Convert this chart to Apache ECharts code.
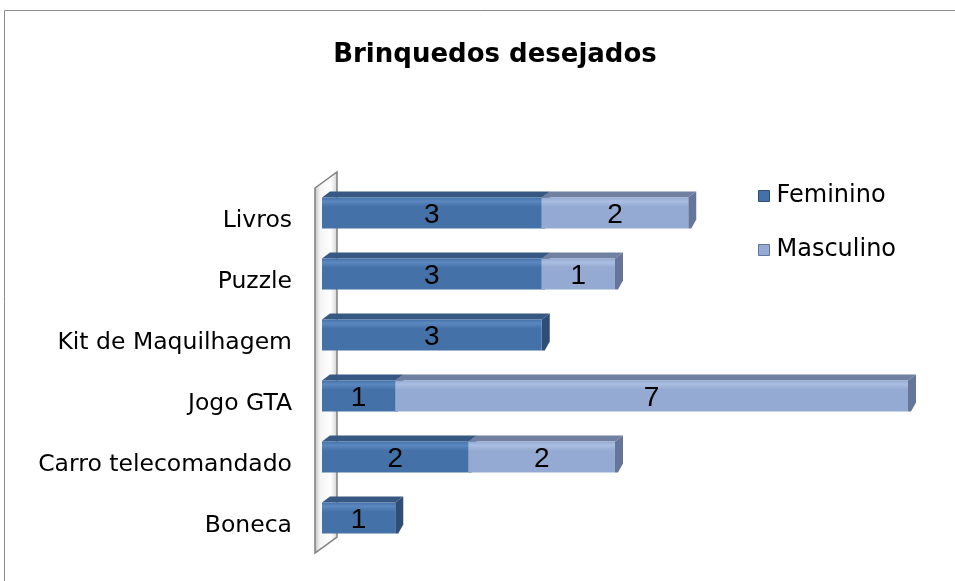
<!DOCTYPE html>
<html>
<head>
<meta charset="utf-8">
<script src="https://cdn.jsdelivr.net/npm/echarts@6/dist/echarts.min.js"></script>
<style>
    html, body { margin: 0; padding: 0; background: #fff; }
    #main { width: 955px; height: 581px; }
</style>
</head>
<body>
<div id="main"></div>
<script>
// dados do gráfico
const categorias = ['Livros', 'Puzzle', 'Kit de Maquilhagem', 'Jogo GTA', 'Carro telecomandado', 'Boneca'];
const feminino = [3, 3, 3, 1, 2, 1];
const masculino = [2, 1, 0, 7, 2, 0];
const nomesSeries = ['Feminino', 'Masculino'];

// cores de cada série: frente, topo, lado, brilho
const cores = {
    Feminino: { front: '#4472A8', top: '#375882', side: '#2F4E77', light: '#5A88BF' },
    Masculino: { front: '#95AAD2', top: '#7080A0', side: '#66769A', light: '#AABEE2' }
};

// monta os segmentos empilhados [categoria, inicio, fim, valor]
const segFeminino = feminino.map((v, i) => [i, 0, v, v]);
const segMasculino = masculino.map((v, i) => [i, feminino[i], feminino[i] + v, v]);

const makeRender = (nome) => (params, api) => {
    const cat = api.value(0);
    const start = api.value(1);
    const end = api.value(2);
    const valor = api.value(3);
    if (!valor) return;
    const p0 = api.coord([start, cat]);
    const p1 = api.coord([end, cat]);
    const c = cores[nome];
    const dx = 8, dy = 6;
    const ft = p0[1] - 13;   // topo da face frontal
    const fh = 31;
    const x0 = p0[0], x1 = p1[0];
    return {
        type: 'group',
        children: [
            {
                type: 'polygon',
                shape: { points: [[x0, ft], [x0 + dx, ft - dy], [x1 + dx, ft - dy], [x1, ft]] },
                style: { fill: c.top }
            },
            {
                type: 'polygon',
                shape: { points: [[x1, ft], [x1 + dx, ft - dy], [x1 + dx, ft + fh - dy - 3], [x1 + 3, ft + fh], [x1, ft + fh]] },
                style: { fill: c.side }
            },
            {
                type: 'rect',
                shape: { x: x0, y: ft, width: x1 - x0, height: fh },
                style: {
                    fill: new echarts.graphic.LinearGradient(0, 0, 0, 1, [
                        { offset: 0, color: c.front },
                        { offset: 0.12, color: c.light },
                        { offset: 0.3, color: c.front },
                        { offset: 1, color: c.front }
                    ])
                }
            },
            {
                type: 'text',
                style: {
                    text: String(valor),
                    x: (x0 + x1) / 2,
                    y: ft + fh / 2 + 2,
                    align: 'center',
                    verticalAlign: 'middle',
                    font: '28px "Liberation Sans Narrow", sans-serif',
                    fill: '#000'
                }
            }
        ]
    };
};

const chart = echarts.init(document.getElementById('main'));

const option = {
    animation: false,
    backgroundColor: '#fff',
    title: {
        text: 'Brinquedos desejados',
        left: 490,
        top: 37,
        textAlign: 'center',
        textStyle: { fontFamily: 'DejaVu Sans', fontWeight: 'bold', fontSize: 26, color: '#000' }
    },
    legend: {
        orient: 'vertical',
        left: 753,
        top: 179,
        itemWidth: 11,
        itemHeight: 11,
        itemGap: 30,
        icon: 'rect',
        textStyle: { fontFamily: 'DejaVu Sans', fontSize: 24, color: '#000', padding: [0, 0, 0, 2] },
        data: [
            { name: 'Feminino', itemStyle: { color: cores.Feminino.front, borderColor: '#2F4E77', borderWidth: 1 } },
            { name: 'Masculino', itemStyle: { color: cores.Masculino.front, borderColor: '#66769A', borderWidth: 1 } }
        ]
    },
    grid: { left: 322, right: 47, top: 180, bottom: 35 },
    xAxis: {
        type: 'value',
        min: 0,
        max: 8,
        show: false
    },
    yAxis: {
        type: 'category',
        data: categorias,
        inverse: true,
        axisLine: { show: false },
        axisTick: { show: false },
        axisLabel: {
            margin: 30,
            fontFamily: 'DejaVu Sans',
            fontSize: 23.5,
            color: '#000',
            verticalAlign: 'top',
            lineHeight: 20
        }
    },
    series: [
        {
            name: nomesSeries[0],
            type: 'custom',
            renderItem: makeRender('Feminino'),
            itemStyle: { color: cores.Feminino.front },
            encode: { x: [1, 2], y: 0 },
            data: segFeminino
        },
        {
            name: nomesSeries[1],
            type: 'custom',
            renderItem: makeRender('Masculino'),
            itemStyle: { color: cores.Masculino.front },
            encode: { x: [1, 2], y: 0 },
            data: segMasculino
        }
    ]
};

chart.setOption(option);

// parede 3D à esquerda e moldura do gráfico
const c0 = chart.convertToPixel({ gridIndex: 0 }, [0, 0]);
const c5 = chart.convertToPixel({ gridIndex: 0 }, [0, categorias.length - 1]);
const band = (c5[1] - c0[1]) / (categorias.length - 1);
const topo = c0[1] - band / 2;
const fundo = c5[1] + band / 2;
const zx = c0[0];

chart.setOption({
    graphic: [
        {
            type: 'rect',
            shape: { x: 4.5, y: 10.5, width: 1200, height: 1200 },
            style: { fill: 'none', stroke: '#8c8c8c', lineWidth: 1 },
            z: -10
        },
        {
            type: 'polygon',
            z: -5,
            shape: {
                points: [
                    [zx - 7, topo + 8],
                    [zx + 15, topo - 8],
                    [zx + 15, fundo - 9],
                    [zx - 7, fundo + 7]
                ]
            },
            style: {
                fill: new echarts.graphic.LinearGradient(0, 0, 1, 0, [
                    { offset: 0, color: '#bfbfbf' },
                    { offset: 0.25, color: '#f4f4f4' },
                    { offset: 0.7, color: '#ffffff' },
                    { offset: 1, color: '#d0d0d0' }
                ]),
                stroke: '#7f7f7f',
                lineWidth: 1.5
            }
        }
    ]
});
</script>
</body>
</html>
